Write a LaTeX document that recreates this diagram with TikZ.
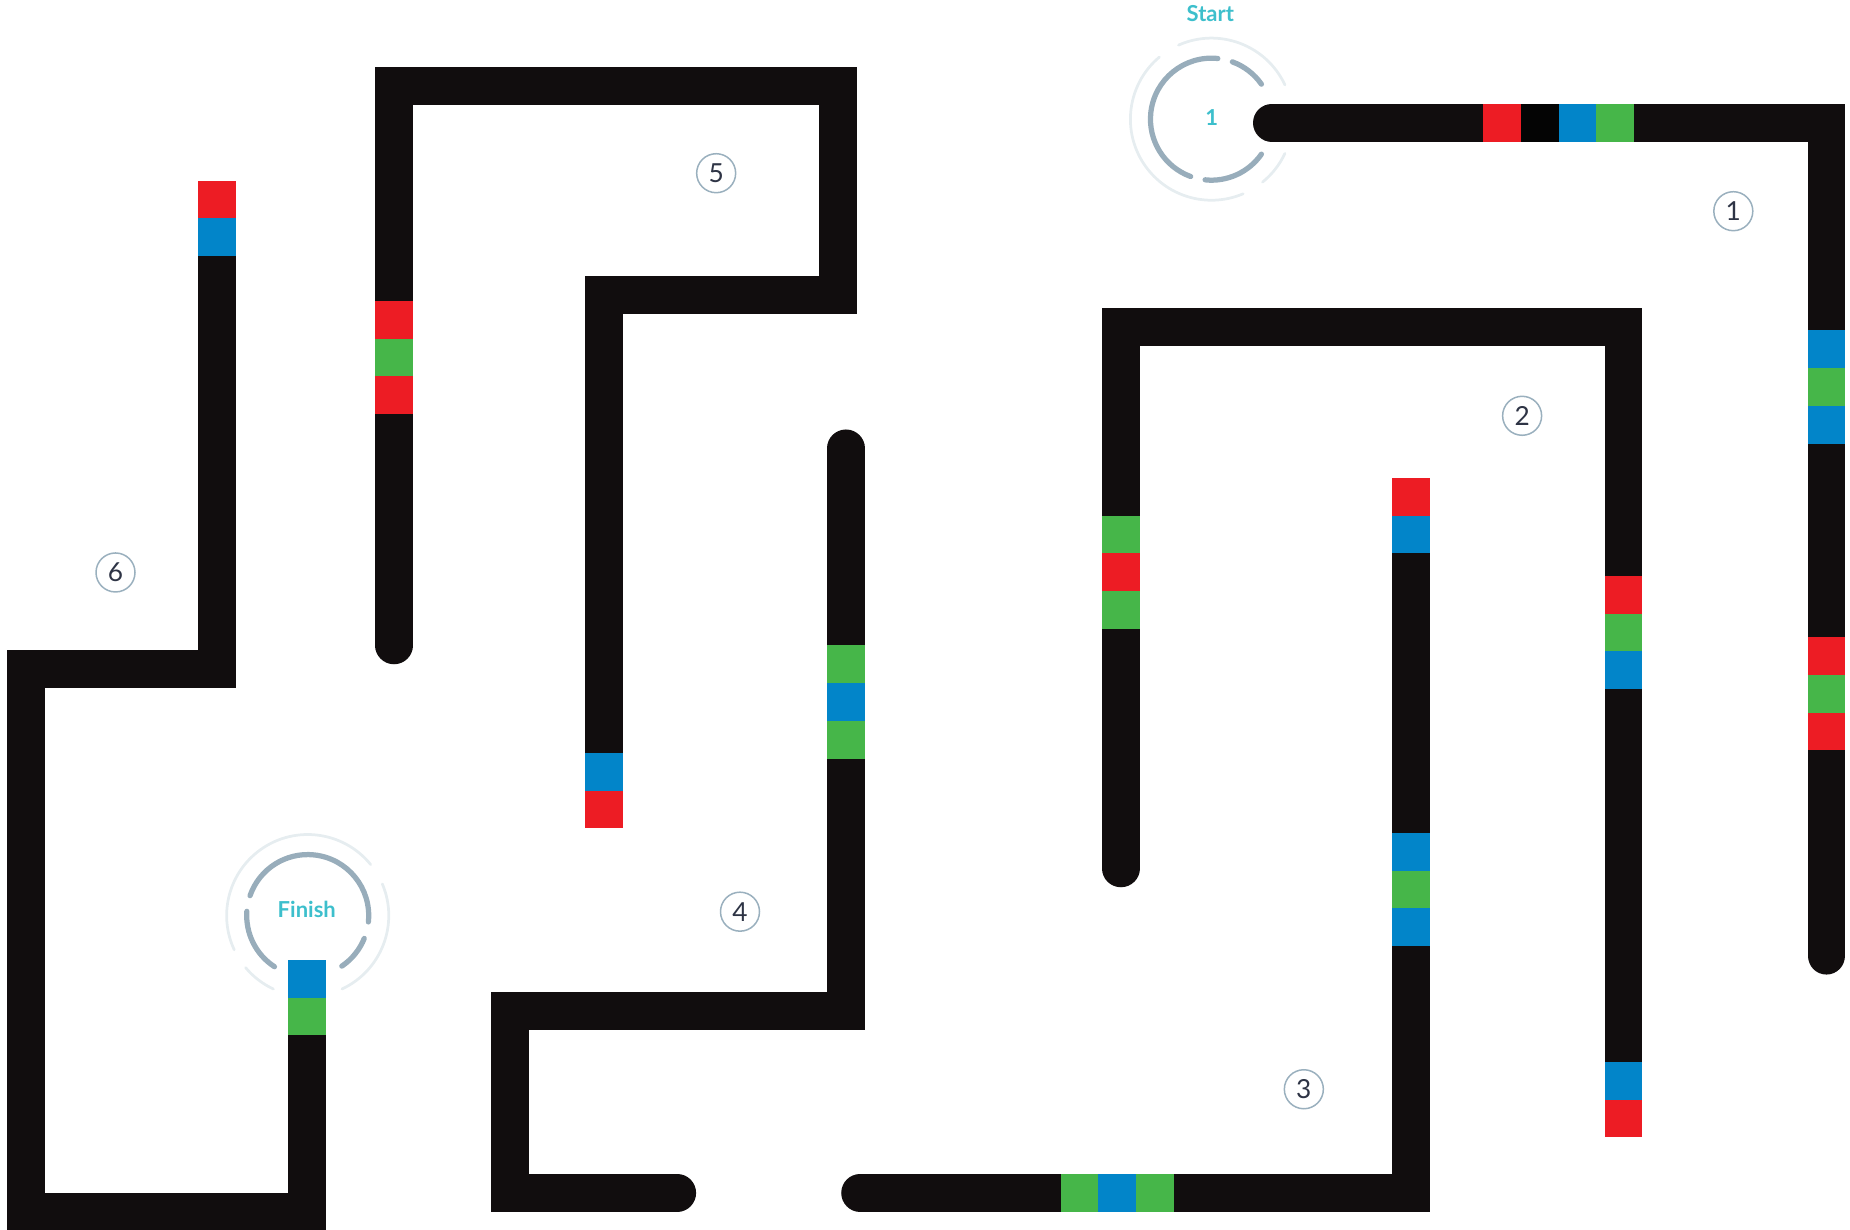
\documentclass[tikz,border=0pt]{standalone}
\usepackage{fontspec}
\setmainfont{Lato}
\definecolor{maze}{HTML}{110D0E}
\definecolor{blk}{HTML}{040404}
\definecolor{bred}{HTML}{ED1C24}
\definecolor{bgreen}{HTML}{46B649}
\definecolor{bblue}{HTML}{0285C9}
\definecolor{cyantxt}{HTML}{3DBFCC}
\definecolor{ring}{HTML}{98ADBB}
\definecolor{ringlight}{HTML}{E6EDF0}
\definecolor{numring}{HTML}{9AB0BE}
\definecolor{numtxt}{HTML}{2E3445}
\begin{document}
\begin{tikzpicture}[x=0.47194pt,y=-0.47194pt,
  track/.style={draw=maze,line width=15.1pt,line cap=round,line join=miter},
  numc/.style={circle,draw=numring,line width=0.6pt,minimum size=15.6pt,inner sep=0pt,text=numtxt,font=\fontsize{10.5}{12}\selectfont},
  ringin/.style={draw=ring,line width=2.1pt,line cap=round},
  ringout/.style={draw=ringlight,line width=1.1pt,line cap=round},
  label/.style={text=cyantxt,font=\bfseries\fontsize{8.8}{10}\selectfont,inner sep=0pt}]
\useasboundingbox (0,0) rectangle (1568,1042.5);
% tracks
\draw[track] (1078,104) -- (1548,104) -- (1548,810);
\draw[track] (950,736) -- (950,277) -- (1376,277) -- (1376,944);
\draw[track] (1196,424) -- (1196,1011) -- (729,1011);
\draw[track] (717,380) -- (717,857) -- (432,857) -- (432,1011) -- (574,1011);
\draw[track] (512,683) -- (512,250) -- (710,250) -- (710,73) -- (334,73) -- (334,547);
\draw[track] (184,172) -- (184,567) -- (22,567) -- (22,1027) -- (260,1027) -- (260,833);
% blocks path 1
\fill[bred] (1257,88) rectangle (1289,120);
\fill[blk] (1289,88) rectangle (1321,120);
\fill[bblue] (1321,88) rectangle (1353,120);
\fill[bgreen] (1353,88) rectangle (1385,120);
\fill[bblue] (1532,280) rectangle (1564,312);
\fill[bgreen] (1532,312) rectangle (1564,344);
\fill[bblue] (1532,344) rectangle (1564,376);
\fill[bred] (1532,540) rectangle (1564,572);
\fill[bgreen] (1532,572) rectangle (1564,604);
\fill[bred] (1532,604) rectangle (1564,636);
% path 2
\fill[bgreen] (934,437) rectangle (966,469);
\fill[bred] (934,469) rectangle (966,501);
\fill[bgreen] (934,501) rectangle (966,533);
\fill[bred] (1360,488) rectangle (1392,520);
\fill[bgreen] (1360,520) rectangle (1392,552);
\fill[bblue] (1360,552) rectangle (1392,584);
\fill[bblue] (1360,900) rectangle (1392,932);
\fill[bred] (1360,932) rectangle (1392,963.5);
% path 3
\fill[bred] (1180,405) rectangle (1212,437);
\fill[bblue] (1180,437) rectangle (1212,469);
\fill[bblue] (1180,706) rectangle (1212,738);
\fill[bgreen] (1180,738) rectangle (1212,770);
\fill[bblue] (1180,770) rectangle (1212,802);
\fill[bgreen] (899,995) rectangle (931,1027);
\fill[bblue] (931,995) rectangle (963,1027);
\fill[bgreen] (963,995) rectangle (995,1027);
% path 4
\fill[bgreen] (701,547) rectangle (733,579);
\fill[bblue] (701,579) rectangle (733,611);
\fill[bgreen] (701,611) rectangle (733,643);
% path 5
\fill[bblue] (496,638) rectangle (528,670);
\fill[bred] (496,670) rectangle (528,702);
\fill[bred] (318,255) rectangle (350,287);
\fill[bgreen] (318,287) rectangle (350,319);
\fill[bred] (318,319) rectangle (350,351);
% path 6
\fill[bred] (168,153) rectangle (200,185);
\fill[bblue] (168,185) rectangle (200,217);
\fill[bblue] (244,814) rectangle (276,846);
\fill[bgreen] (244,846) rectangle (276,877.5);
% start ring
\coordinate (sc) at (1026.8,101);
\draw[ringin] (sc) ++(-84:51.7) arc[start angle=-84,end angle=-250,radius=51.7];
\draw[ringin] (sc) ++(96:51.7) arc[start angle=96,end angle=35,radius=51.7];
\draw[ringin] (sc) ++(-35:51.7) arc[start angle=-35,end angle=-70,radius=51.7];
\draw[ringout] (sc) ++(-25:68.7) arc[start angle=-25,end angle=-114,radius=68.7];
\draw[ringout] (sc) ++(-130:68.7) arc[start angle=-130,end angle=-293,radius=68.7];
\draw[ringout] (sc) ++(51:68.7) arc[start angle=51,end angle=25,radius=68.7];
\node[label] (start) at (1025.8,11.3) {Start};
\node[label] (one) at (1027,99.6) {1};
% finish ring
\coordinate (fc) at (260.8,776);
\draw[ringin] (fc) ++(6:51.7) arc[start angle=6,end angle=-161,radius=51.7];
\draw[ringin] (fc) ++(-176:51.7) arc[start angle=-176,end angle=-237,radius=51.7];
\draw[ringin] (fc) ++(56:51.7) arc[start angle=56,end angle=22,radius=51.7];
\draw[ringout] (fc) ++(-39:68.7) arc[start angle=-39,end angle=-205,radius=68.7];
\draw[ringout] (fc) ++(-220:68.7) arc[start angle=-220,end angle=-245,radius=68.7];
\draw[ringout] (fc) ++(65:68.7) arc[start angle=65,end angle=-23,radius=68.7];
\node[label] (finish) at (260,770.9) {Finish};
% numbered markers
\node[numc] (m1) at (1469.1,179) {1};
\node[numc] (m2) at (1290.1,352.4) {2};
\node[numc] (m3) at (1105.1,923.2) {3};
\node[numc] (m4) at (627.2,772.7) {4};
\node[numc] (m5) at (607.0,146.8) {5};
\node[numc] (m6) at (97.9,485.2) {6};
\end{tikzpicture}
\end{document}
